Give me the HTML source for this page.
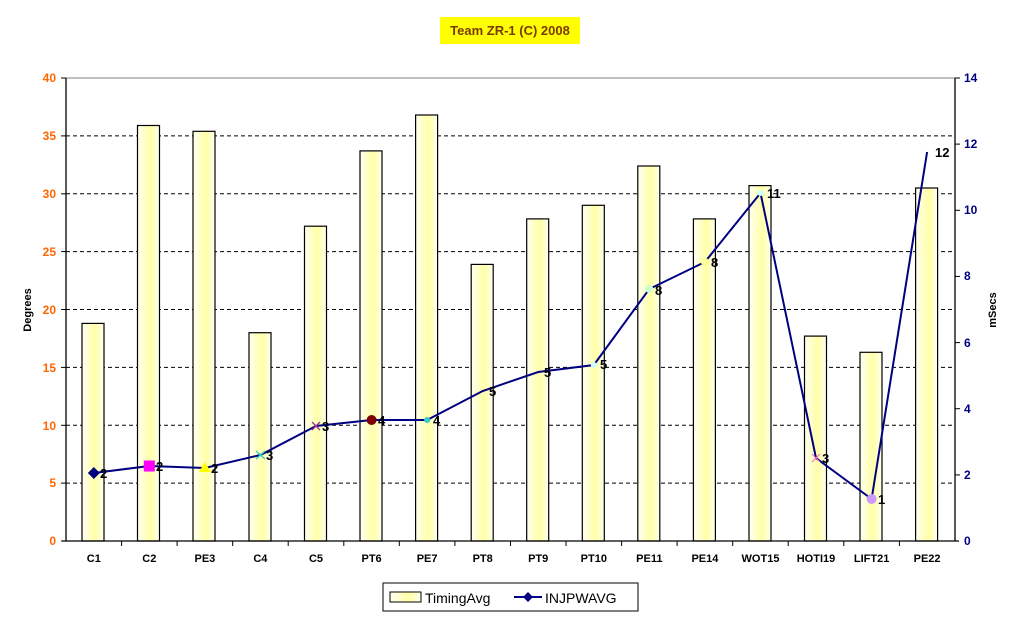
<!DOCTYPE html>
<html><head><meta charset="utf-8"><style>body{margin:0;background:#fff}svg{display:block}text{font-family:"Liberation Sans",Arial,sans-serif}</style></head><body>
<svg width="1020" height="618" xmlns="http://www.w3.org/2000/svg">
<defs><linearGradient id="g" x1="0" x2="1" y1="0" y2="0"><stop offset="0" stop-color="#fffff2"/><stop offset="0.6" stop-color="#ffffa6"/><stop offset="1" stop-color="#fffff0"/></linearGradient></defs>
<rect x="440" y="17" width="140" height="27" fill="#ffff00"/>
<text x="510" y="35" font-size="13" font-weight="bold" fill="#7a3b00" text-anchor="middle">Team ZR-1 (C) 2008</text>
<g id="grid" stroke="#000" stroke-dasharray="4,3" stroke-width="1">
<line x1="66" x2="955" y1="483.1" y2="483.1"/><line x1="66" x2="955" y1="425.3" y2="425.3"/><line x1="66" x2="955" y1="367.4" y2="367.4"/><line x1="66" x2="955" y1="309.5" y2="309.5"/><line x1="66" x2="955" y1="251.6" y2="251.6"/><line x1="66" x2="955" y1="193.8" y2="193.8"/><line x1="66" x2="955" y1="135.9" y2="135.9"/>
</g>
<line x1="66" x2="955" y1="78" y2="78" stroke="#808080"/>
<g fill="url(#g)" stroke="#000" stroke-width="1.2">
<rect x="82" y="323.4" width="22" height="217.6"/>
<rect x="137.5" y="125.5" width="22" height="415.5"/>
<rect x="193" y="131.3" width="22" height="409.7"/>
<rect x="249" y="332.7" width="22" height="208.3"/>
<rect x="304.5" y="226.2" width="22" height="314.8"/>
<rect x="360" y="150.9" width="22" height="390.1"/>
<rect x="415.6" y="115" width="22" height="426"/>
<rect x="471.2" y="264.4" width="22" height="276.6"/>
<rect x="526.7" y="218.9" width="22" height="322.1"/>
<rect x="582.3" y="205.3" width="22" height="335.7"/>
<rect x="637.8" y="166" width="22" height="375"/>
<rect x="693.4" y="218.9" width="22" height="322.1"/>
<rect x="749" y="185.6" width="22" height="355.4"/>
<rect x="804.5" y="336.1" width="22" height="204.9"/>
<rect x="860" y="352.3" width="22" height="188.7"/>
<rect x="915.6" y="188" width="22" height="353"/>
</g>
<g stroke="#000" stroke-width="1.3">
<line x1="66" x2="66" y1="78" y2="541"/><line x1="955" x2="955" y1="78" y2="541"/><line x1="62" x2="959" y1="541" y2="541"/>
</g>
<g stroke="#000"><line x1="61" x2="66" y1="78" y2="78"/><line x1="61" x2="66" y1="135.9" y2="135.9"/><line x1="61" x2="66" y1="193.8" y2="193.8"/><line x1="61" x2="66" y1="251.6" y2="251.6"/><line x1="61" x2="66" y1="309.5" y2="309.5"/><line x1="61" x2="66" y1="367.4" y2="367.4"/><line x1="61" x2="66" y1="425.3" y2="425.3"/><line x1="61" x2="66" y1="483.1" y2="483.1"/><line x1="61" x2="66" y1="541" y2="541"/>
<line x1="955" x2="960" y1="78" y2="78"/><line x1="955" x2="960" y1="144.1" y2="144.1"/><line x1="955" x2="960" y1="210.3" y2="210.3"/><line x1="955" x2="960" y1="276.4" y2="276.4"/><line x1="955" x2="960" y1="342.6" y2="342.6"/><line x1="955" x2="960" y1="408.7" y2="408.7"/><line x1="955" x2="960" y1="474.9" y2="474.9"/>
<line x1="121.6" x2="121.6" y1="541" y2="546"/><line x1="177.1" x2="177.1" y1="541" y2="546"/><line x1="232.7" x2="232.7" y1="541" y2="546"/><line x1="288.2" x2="288.2" y1="541" y2="546"/><line x1="343.8" x2="343.8" y1="541" y2="546"/><line x1="399.3" x2="399.3" y1="541" y2="546"/><line x1="454.9" x2="454.9" y1="541" y2="546"/><line x1="510.5" x2="510.5" y1="541" y2="546"/><line x1="566" x2="566" y1="541" y2="546"/><line x1="621.6" x2="621.6" y1="541" y2="546"/><line x1="677.1" x2="677.1" y1="541" y2="546"/><line x1="732.7" x2="732.7" y1="541" y2="546"/><line x1="788.2" x2="788.2" y1="541" y2="546"/><line x1="843.8" x2="843.8" y1="541" y2="546"/><line x1="899.4" x2="899.4" y1="541" y2="546"/></g>
<g font-size="12" fill="#ff6600" text-anchor="end" font-weight="bold">
<text x="56" y="82">40</text><text x="56" y="140">35</text><text x="56" y="198">30</text><text x="56" y="256">25</text><text x="56" y="314">20</text><text x="56" y="372">15</text><text x="56" y="430">10</text><text x="56" y="487">5</text><text x="56" y="545">0</text></g>
<g font-size="12" fill="#000080" font-weight="bold">
<text x="964" y="82">14</text><text x="964" y="148">12</text><text x="964" y="214">10</text><text x="964" y="280">8</text><text x="964" y="347">6</text><text x="964" y="413">4</text><text x="964" y="479">2</text><text x="964" y="545">0</text></g>
<text transform="translate(31,310) rotate(-90)" font-size="11" font-weight="bold" fill="#000" text-anchor="middle">Degrees</text>
<text transform="translate(996,310) rotate(-90)" font-size="11" font-weight="bold" fill="#000" text-anchor="middle">mSecs</text>
<g font-size="11" font-weight="bold" text-anchor="middle" fill="#000">
<text x="93.8" y="562">C1</text><text x="149.3" y="562">C2</text><text x="204.9" y="562">PE3</text><text x="260.4" y="562">C4</text><text x="316" y="562">C5</text><text x="371.6" y="562">PT6</text><text x="427.1" y="562">PE7</text><text x="482.7" y="562">PT8</text><text x="538.2" y="562">PT9</text><text x="593.8" y="562">PT10</text><text x="649.3" y="562">PE11</text><text x="704.9" y="562">PE14</text><text x="760.5" y="562">WOT15</text><text x="816" y="562">HOTI19</text><text x="871.6" y="562">LIFT21</text><text x="927.1" y="562">PE22</text></g>
<polyline fill="none" stroke="#000080" stroke-width="2" points="93.8,473 149.3,466 204.9,468 260.4,455 316,426 371.6,420 427.1,420 482.7,391 538.2,372 593.8,365 649.3,289 704.9,262 760.5,193 816,458 871.6,499 927.1,152"/>
<polygon points="93.8,467 99.8,473 93.8,479 87.8,473" fill="#000080"/>
<rect x="143.8" y="460.5" width="11" height="11" fill="#ff00ff"/>
<polygon points="204.9,462 210.9,472 198.9,472" fill="#ffff00"/>
<g stroke="#33cccc" stroke-width="1.3"><line x1="256" x2="265" y1="451" y2="459"/><line x1="256" x2="265" y1="459" y2="451"/></g>
<g stroke="#993399" stroke-width="1.3"><line x1="312" x2="320" y1="422" y2="430"/><line x1="312" x2="320" y1="430" y2="422"/></g>
<circle cx="371.6" cy="420" r="5" fill="#800000"/>
<circle cx="427.1" cy="420" r="3" fill="#33cccc"/>
<circle cx="649.3" cy="289" r="4" fill="#ccffcc"/>
<circle cx="704.9" cy="262" r="4" fill="#ffff99"/>
<circle cx="760.5" cy="193" r="3" fill="#ccffff"/>
<circle cx="593.8" cy="365" r="3" fill="#ccffff"/>
<g stroke="#ff66cc" stroke-width="1"><line x1="812" x2="820" y1="454" y2="462"/><line x1="812" x2="820" y1="462" y2="454"/></g>
<circle cx="871.6" cy="499" r="5" fill="#cc99ff"/>
<g font-size="13" font-weight="bold" fill="#000">
<text x="100" y="478">2</text><text x="156" y="471">2</text><text x="211" y="473">2</text><text x="266" y="460">3</text><text x="322" y="431">3</text><text x="378" y="425">4</text><text x="433" y="425">4</text><text x="489" y="396">5</text><text x="544" y="377">5</text><text x="600" y="369">5</text><text x="655" y="295">8</text><text x="711" y="267">8</text><text x="767" y="198">11</text><text x="822" y="463">3</text><text x="878" y="504">1</text><text x="935" y="157">12</text></g>
<rect x="383" y="583" width="255" height="28" fill="#fff" stroke="#000"/>
<rect x="390" y="592" width="31" height="10" fill="url(#g)" stroke="#000"/>
<text x="425" y="603" font-size="14" fill="#000">TimingAvg</text>
<line x1="514" x2="542" y1="597" y2="597" stroke="#000080" stroke-width="2"/>
<polygon points="528,592 533,597 528,602 523,597" fill="#000080"/>
<text x="545" y="603" font-size="14" fill="#000">INJPWAVG</text>
</svg>
</body></html>
